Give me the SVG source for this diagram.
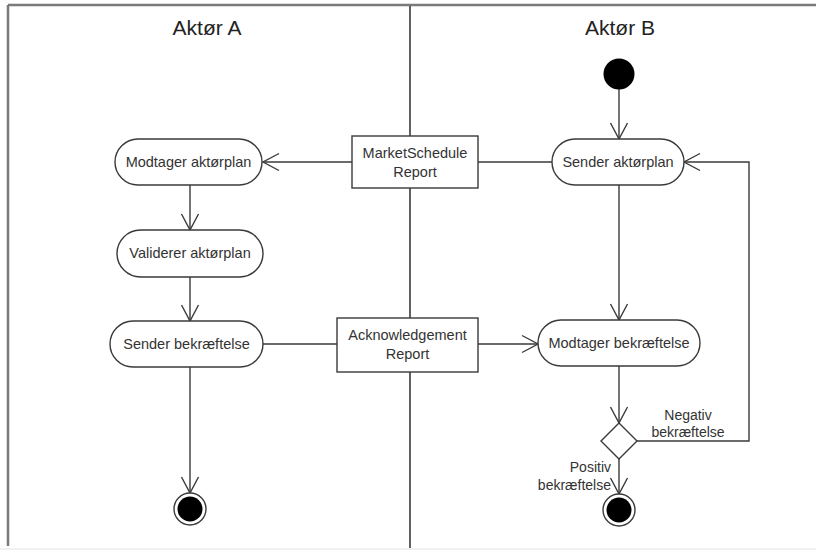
<svg xmlns="http://www.w3.org/2000/svg" width="816" height="551" viewBox="0 0 816 551">
  <defs>
    <style>
      .frame { stroke: #7a7a7a; stroke-width: 2.5; fill: none; }
      .lane { stroke: #3a3a3a; stroke-width: 1.6; fill: none; }
      .act { fill: #ffffff; stroke: #3a3a3a; stroke-width: 1.4; }
      .obj { fill: #ffffff; stroke: #3a3a3a; stroke-width: 1.4; }
      .edge { fill: none; stroke: #3a3a3a; stroke-width: 1.4; }
      .lbl { font-family: "Liberation Sans", Arial, sans-serif; font-size: 14.5px; fill: #333333; text-anchor: middle; }
      .side { font-family: "Liberation Sans", Arial, sans-serif; font-size: 14px; fill: #333333; }
      .title { font-family: "Liberation Sans", Arial, sans-serif; font-size: 21px; fill: #222222; text-anchor: middle; }
    </style>
    <marker id="open" viewBox="-18 -10 20 20" refX="0" refY="0" markerWidth="20" markerHeight="20" markerUnits="userSpaceOnUse" orient="auto">
      <path d="M-16,-8.5 L0,0 L-16,8.5" fill="none" stroke="#3a3a3a" stroke-width="1.4"/>
    </marker>
  </defs>

  <rect width="816" height="551" fill="#ffffff"/>

  <!-- swimlane frame -->
  <g id="lanes">
    <line class="frame" x1="8" y1="5" x2="816" y2="5"/>
    <line class="frame" x1="8" y1="5" x2="8" y2="546"/>
    <line x1="0" y1="549" x2="816" y2="549" stroke="#e2e2e2" stroke-width="1"/>
    <line class="lane" x1="410" y1="6" x2="410" y2="548"/>
    <text class="title" x="207" y="35">Aktør A</text>
    <text class="title" x="620" y="35">Aktør B</text>
  </g>

  <!-- connectors -->
  <g id="connectors">
    <line class="edge" x1="352" y1="162" x2="263" y2="162" marker-end="url(#open)"/>
    <line class="edge" x1="478" y1="162" x2="552" y2="162"/>
    <line class="edge" x1="263" y1="344" x2="337" y2="344"/>
    <line class="edge" x1="478" y1="344" x2="538" y2="344" marker-end="url(#open)"/>
    <line class="edge" x1="190" y1="185" x2="190" y2="230" marker-end="url(#open)"/>
    <line class="edge" x1="190" y1="277" x2="190" y2="321" marker-end="url(#open)"/>
    <line class="edge" x1="190" y1="367" x2="190" y2="493" marker-end="url(#open)"/>
    <line class="edge" x1="619" y1="89" x2="619" y2="139" marker-end="url(#open)"/>
    <line class="edge" x1="619" y1="185" x2="619" y2="320" marker-end="url(#open)"/>
    <line class="edge" x1="619" y1="366" x2="619" y2="423" marker-end="url(#open)"/>
    <line class="edge" x1="619" y1="459" x2="619" y2="494" marker-end="url(#open)"/>
    <polyline class="edge" points="637,441 749,441 749,162 684,162" marker-end="url(#open)"/>
  </g>

  <!-- Aktør A activities -->
  <g id="modtager-aktorplan">
    <rect class="act" x="115" y="139" width="147" height="46" rx="23"/>
    <text class="lbl" x="188.5" y="167">Modtager aktørplan</text>
  </g>
  <g id="validerer-aktorplan">
    <rect class="act" x="117" y="230" width="146" height="47" rx="23.5"/>
    <text class="lbl" x="190" y="258">Validerer aktørplan</text>
  </g>
  <g id="sender-bekraeftelse">
    <rect class="act" x="110" y="321" width="153" height="46" rx="23"/>
    <text class="lbl" x="186.5" y="349">Sender bekræftelse</text>
  </g>
  <g id="end-a">
    <circle cx="190" cy="509" r="16" fill="#ffffff" stroke="#3a3a3a" stroke-width="1.4"/>
    <circle cx="190" cy="509" r="12.5" fill="#000000"/>
  </g>

  <!-- messages -->
  <g id="marketschedule-report">
    <rect class="obj" x="352" y="136" width="126" height="52"/>
    <text class="lbl" x="415" y="158">MarketSchedule</text>
    <text class="lbl" x="415" y="177">Report</text>
  </g>
  <g id="acknowledgement-report">
    <rect class="obj" x="337" y="318" width="141" height="54"/>
    <text class="lbl" x="407.5" y="340">Acknowledgement</text>
    <text class="lbl" x="407.5" y="359">Report</text>
  </g>

  <!-- Aktør B activities -->
  <g id="start-b">
    <circle cx="619" cy="74" r="15.5" fill="#000000"/>
  </g>
  <g id="sender-aktorplan">
    <rect class="act" x="552" y="139" width="132" height="46" rx="23"/>
    <text class="lbl" x="618" y="167">Sender aktørplan</text>
  </g>
  <g id="modtager-bekraeftelse">
    <rect class="act" x="538" y="320" width="162" height="46" rx="23"/>
    <text class="lbl" x="619" y="348">Modtager bekræftelse</text>
  </g>
  <g id="decision">
    <polygon points="619,423 637,441 619,459 601,441" fill="#ffffff" stroke="#3a3a3a" stroke-width="1.4"/>
    <text class="side" x="688" y="420" text-anchor="middle">Negativ</text>
    <text class="side" x="688" y="437" text-anchor="middle">bekræftelse</text>
    <text class="side" x="611" y="472" text-anchor="end">Positiv</text>
    <text class="side" x="611" y="490" text-anchor="end">bekræftelse</text>
  </g>
  <g id="end-b">
    <circle cx="619" cy="510" r="16" fill="#ffffff" stroke="#3a3a3a" stroke-width="1.4"/>
    <circle cx="619" cy="510" r="12.5" fill="#000000"/>
  </g>
</svg>
